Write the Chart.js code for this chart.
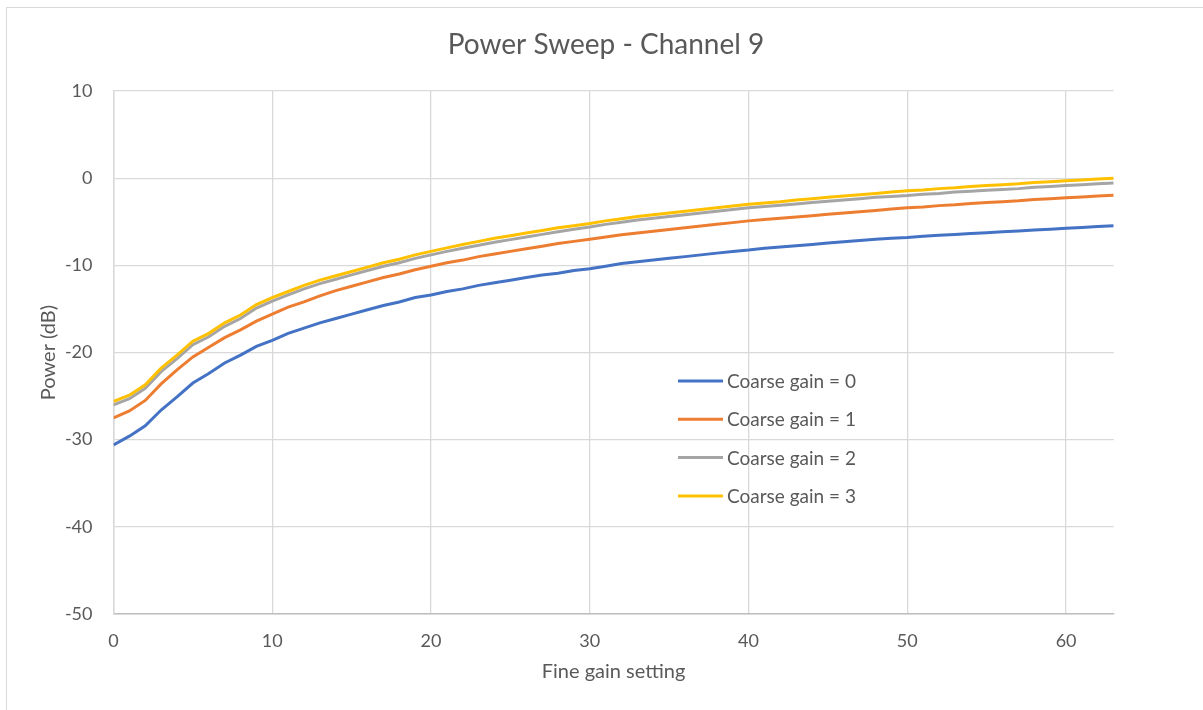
<!DOCTYPE html>
<html>
<head>
<meta charset="utf-8">
<title>Power Sweep - Channel 9</title>
<script src="https://cdn.jsdelivr.net/npm/chart.js@4/dist/chart.umd.min.js"></script>
<style>
  html, body { margin: 0; padding: 0; background: #ffffff; }
  #frame { position: absolute; left: 6px; top: 7px; width: 1203px; height: 710px;
           border-left: 1px solid #d9d9d9; border-top: 1px solid #d9d9d9; }
  #chart { position: absolute; left: 0; top: 0; }
</style>
</head>
<body>
<div id="frame"></div>
<canvas id="chart" width="1203" height="710"></canvas>
<script>
// Fine gain setting 0..63
const fineGain = Array.from({ length: 64 }, (_, i) => i);

const seriesLabels = ['Coarse gain = 0', 'Coarse gain = 1', 'Coarse gain = 2', 'Coarse gain = 3'];
const seriesColors = ['#4472C4', '#ED7D31', '#A5A5A5', '#FFC000'];

// Power (dB)
const coarse0 = [
  -30.6, -29.6, -28.4, -26.6, -25.1, -23.5, -22.4, -21.2, -20.3, -19.3,
  -18.6, -17.8, -17.2, -16.6, -16.1, -15.6, -15.1, -14.6, -14.2, -13.7,
  -13.4, -13.0, -12.7, -12.3, -12.0, -11.7, -11.4, -11.1, -10.9, -10.6,
  -10.4, -10.1, -9.8, -9.6, -9.4, -9.2, -9.0, -8.8, -8.6, -8.4,
  -8.25, -8.05, -7.9, -7.75, -7.6, -7.45, -7.3, -7.15, -7.0, -6.9,
  -6.8, -6.65, -6.55, -6.45, -6.35, -6.25, -6.15, -6.05, -5.95, -5.85,
  -5.75, -5.65, -5.55, -5.45
];
const coarse1 = [
  -27.5, -26.7, -25.5, -23.6, -22.0, -20.5, -19.4, -18.3, -17.4, -16.4,
  -15.6, -14.8, -14.2, -13.5, -12.9, -12.4, -11.9, -11.4, -11.0, -10.5,
  -10.1, -9.7, -9.4, -9.0, -8.7, -8.4, -8.1, -7.8, -7.5, -7.25,
  -7.0, -6.75, -6.5, -6.3, -6.1, -5.9, -5.7, -5.5, -5.3, -5.1,
  -4.9, -4.75, -4.6, -4.45, -4.3, -4.15, -4.0, -3.85, -3.7, -3.55,
  -3.4, -3.3, -3.15, -3.05, -2.9, -2.8, -2.7, -2.6, -2.45, -2.35,
  -2.25, -2.15, -2.05, -1.95
];
const coarse2 = [
  -26.0, -25.3, -24.1, -22.2, -20.7, -19.1, -18.2, -17.0, -16.1, -14.9,
  -14.1, -13.4, -12.7, -12.1, -11.6, -11.1, -10.6, -10.1, -9.7, -9.2,
  -8.8, -8.4, -8.05, -7.7, -7.35, -7.05, -6.75, -6.45, -6.15, -5.85,
  -5.6, -5.3, -5.05, -4.8, -4.6, -4.4, -4.2, -4.0, -3.8, -3.6,
  -3.4, -3.25, -3.1, -2.95, -2.8, -2.65, -2.5, -2.35, -2.2, -2.1,
  -2.0, -1.85, -1.75, -1.6, -1.5, -1.4, -1.3, -1.2, -1.05, -0.95,
  -0.85, -0.75, -0.65, -0.55
];
const coarse3 = [
  -25.6, -24.9, -23.7, -21.8, -20.3, -18.7, -17.8, -16.6, -15.7, -14.5,
  -13.7, -13.0, -12.3, -11.7, -11.2, -10.7, -10.2, -9.7, -9.3, -8.8,
  -8.4, -8.0, -7.6, -7.25, -6.9, -6.6, -6.3, -6.0, -5.7, -5.45,
  -5.2, -4.9, -4.65, -4.4, -4.2, -4.0, -3.8, -3.6, -3.4, -3.2,
  -3.0, -2.85, -2.7, -2.5, -2.35, -2.2, -2.05, -1.9, -1.75, -1.6,
  -1.45, -1.35, -1.2, -1.1, -0.95, -0.85, -0.75, -0.65, -0.5, -0.4,
  -0.3, -0.2, -0.1, 0.0
];
const allSeries = [coarse0, coarse1, coarse2, coarse3];

const textColor = '#595959';
const gridColor = '#d9d9d9';
const fontFamily = 'Lato, "Open Sans", sans-serif';

// legend drawn inside the plot, like the Excel one
const insideLegend = {
  id: 'insideLegend',
  afterDatasetsDraw(chart) {
    const { ctx, chartArea } = chart;
    const x0 = chartArea.left + 564.5;
    const y0 = chartArea.top + 290;
    ctx.save();
    ctx.font = '19px ' + fontFamily;
    ctx.textBaseline = 'middle';
    ctx.textAlign = 'left';
    chart.data.datasets.forEach((ds, i) => {
      const y = y0 + i * 38.3;
      ctx.strokeStyle = ds.borderColor;
      ctx.lineWidth = 3;
      ctx.beginPath();
      ctx.moveTo(x0, y);
      ctx.lineTo(x0 + 45, y);
      ctx.stroke();
      ctx.fillStyle = textColor;
      ctx.fillText(ds.label, x0 + 49, y + 1);
    });
    ctx.restore();
  }
};

const ctx = document.getElementById('chart').getContext('2d');
const chart = new Chart(ctx, {
  type: 'line',
  data: {
    datasets: allSeries.map((values, i) => ({
      label: seriesLabels[i],
      data: values.map((v, j) => ({ x: fineGain[j], y: v })),
      borderColor: seriesColors[i],
      backgroundColor: seriesColors[i],
      borderWidth: 3,
      pointRadius: 0,
      tension: 0,
      order: 3 - i
    }))
  },
  options: {
    responsive: false,
    animation: false,
    devicePixelRatio: 1,
    layout: { padding: { left: 9, right: 0, top: 0, bottom: 0 } },
    plugins: {
      legend: { display: false },
      tooltip: { enabled: false },
      title: {
        display: true,
        text: 'Power Sweep - Channel 9',
        color: textColor,
        font: { family: fontFamily, size: 28, weight: 'normal' },
        padding: { top: 27.7, bottom: 29.7 }
      }
    },
    scales: {
      x: {
        type: 'linear',
        min: 0,
        max: 63,
        afterFit: (scale) => { scale.height = 96; },
        ticks: {
          stepSize: 10,
          includeBounds: false,
          color: textColor,
          padding: 16,
          font: { family: fontFamily, size: 18 }
        },
        grid: { color: gridColor, lineWidth: 1.3, drawTicks: false },
        border: { color: '#bfbfbf', width: 1.5 },
        title: {
          display: true,
          text: 'Fine gain setting',
          color: textColor,
          font: { family: fontFamily, size: 20 },
          padding: { top: 0, bottom: 26.5 }
        }
      },
      y: {
        min: -50,
        max: 10,
        afterFit: (scale) => { scale.width = 104.5; },
        ticks: {
          stepSize: 10,
          color: textColor,
          padding: 21,
          font: { family: fontFamily, size: 18 }
        },
        grid: { color: gridColor, lineWidth: 1.3, drawTicks: false },
        border: { color: gridColor, width: 1.5 },
        title: {
          display: true,
          text: 'Power (dB)',
          color: textColor,
          font: { family: fontFamily, size: 20 },
          padding: { top: 28, bottom: 0 }
        }
      },
      // empty right-hand spacer so the plot ends where the reference does
      yRight: {
        type: 'linear',
        position: 'right',
        min: -50,
        max: 10,
        afterFit: (scale) => { scale.width = 89.3; },
        ticks: { display: false },
        grid: { display: false, drawOnChartArea: false },
        border: { display: false }
      }
    }
  },
  plugins: [insideLegend]
});
</script>
</body>
</html>
